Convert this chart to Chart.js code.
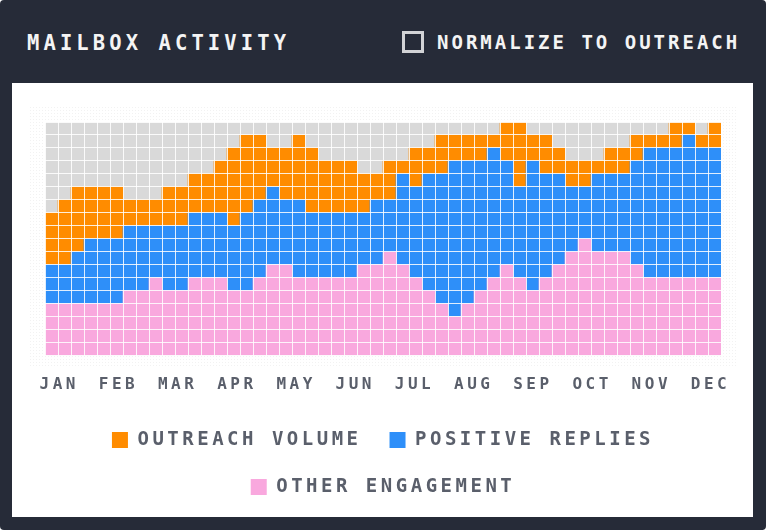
<!DOCTYPE html>
<html>
<head>
<meta charset="utf-8">
<script src="https://cdn.jsdelivr.net/npm/chart.js@4.4.1/dist/chart.umd.min.js"></script>
<style>
  html, body { margin: 0; padding: 0; background: #ffffff; }
  #frame { position: absolute; left: 0; top: 0; width: 766px; height: 530px; background: #262b38; border-radius: 4px; overflow: hidden; }
  .txt { position: absolute; color: #f4f4f4; font-family: "DejaVu Sans Mono", monospace; font-weight: bold; white-space: nowrap; }
  #title { left: 27px; top: 32.6px; font-size: 20.5px; line-height: 20.5px; letter-spacing: 4.1px; }
  #norm { left: 437px; top: 32.8px; font-size: 19px; line-height: 19px; letter-spacing: 3px; }
  #chk { position: absolute; left: 402px; top: 30.5px; width: 22px; height: 22px; box-sizing: border-box; border: 3px solid #d2d3d6; background: #262b38; }
  #panel { position: absolute; left: 12px; top: 83px; width: 741px; height: 434px; background: #ffffff; }
  canvas { display: block; }
</style>
</head>
<body>
<div id="frame">
  <div id="title" class="txt">MAILBOX ACTIVITY</div>
  <div id="chk"></div>
  <div id="norm" class="txt">NORMALIZE TO OUTREACH</div>
  <div id="panel"><canvas id="c" width="741" height="434"></canvas></div>
</div>
<script>
// ---- data (cells per week, 18-cell columns) ----
const WEEKS = ['W1','W2','W3','W4','W5','W6','W7','W8','W9','W10','W11','W12','W13','W14','W15','W16','W17','W18','W19','W20','W21','W22','W23','W24','W25','W26','W27','W28','W29','W30','W31','W32','W33','W34','W35','W36','W37','W38','W39','W40','W41','W42','W43','W44','W45','W46','W47','W48','W49','W50','W51','W52'];
const MONTHS = ['JAN','FEB','MAR','APR','MAY','JUN','JUL','AUG','SEP','OCT','NOV','DEC'];
const OTHER_ENGAGEMENT = [4,4,4,4,4,4,5,5,6,5,5,6,6,6,5,5,6,7,7,6,6,6,6,6,7,7,8,7,6,5,4,3,4,5,6,7,6,5,6,7,8,9,8,8,8,7,6,6,6,6,6,6];
const POSITIVE_REPLIES = [3,3,4,5,5,5,5,5,4,5,5,5,5,5,5,6,6,6,5,6,5,5,5,5,4,5,4,7,7,9,10,12,11,10,10,8,7,10,8,7,5,4,6,6,6,8,10,10,10,11,10,10];
const OUTREACH_VOLUME = [4,5,5,4,4,4,2,2,2,3,3,3,3,4,6,6,5,3,4,5,5,4,4,4,3,2,3,1,3,2,3,2,2,2,1,3,5,2,3,2,2,2,1,2,2,2,1,1,2,1,1,2];
const ROWS = 18;

const PINK = '#f9a8de';
const BLUE = '#2e8ff9';
const ORANGE = '#ff8c00';
const EMPTY = '#d9d9d9';
const GAP = 'rgba(255,255,255,0.85)';
const LABEL = '#5a5f6b';
const FONT = 'DejaVu Sans Mono';

const letterSpacing = {
  id: 'letterSpacing',
  beforeUpdate(chart) { chart.ctx.letterSpacing = '3.5px'; },
  beforeDraw(chart) { chart.ctx.letterSpacing = '3.5px'; }
};

const background = {
  id: 'background',
  beforeDraw(chart) {
    const {ctx, chartArea: a} = chart;
    const pc = document.createElement('canvas');
    pc.width = 3; pc.height = 3;
    const p = pc.getContext('2d');
    p.fillStyle = 'rgba(0,0,0,0.05)';
    p.fillRect(0, 0, 1, 1);
    ctx.save();
    ctx.fillStyle = ctx.createPattern(pc, 'repeat');
    ctx.fillRect(a.left - 15, a.top - 15, a.width + 31, a.height + 27);
    ctx.fillStyle = EMPTY;
    ctx.fillRect(a.left, a.top, a.width, a.height);
    ctx.restore();
  }
};

new Chart(document.getElementById('c'), {
  type: 'bar',
  data: {
    labels: WEEKS,
    datasets: [
      { label: 'OTHER ENGAGEMENT', data: OTHER_ENGAGEMENT, backgroundColor: PINK },
      { label: 'POSITIVE REPLIES', data: POSITIVE_REPLIES, backgroundColor: BLUE },
      { label: 'OUTREACH VOLUME', data: OUTREACH_VOLUME, backgroundColor: ORANGE }
    ]
  },
  options: {
    responsive: false,
    animation: false,
    devicePixelRatio: 1,
    layout: { padding: { left: 33, right: 32, top: 39, bottom: 10.5 } },
    datasets: { bar: { barPercentage: 1, categoryPercentage: 1, borderWidth: 0 } },
    scales: {
      x: {
        stacked: true,
        ticks: { display: false },
        grid: { color: GAP, lineWidth: 1, z: 1, drawTicks: false, offset: true },
        border: { display: false }
      },
      months: {
        type: 'linear',
        position: 'bottom',
        offset: false,
        min: -0.241,
        max: 11.177,
        afterBuildTicks: (s) => { s.ticks = MONTHS.map((m, i) => ({ value: i })); },
        afterFit: (s) => { s.height = 47; },
        ticks: {
          autoSkip: false, maxRotation: 0, padding: 20, color: LABEL,
          font: { family: FONT, weight: 'bold', size: 16 },
          callback: (v) => MONTHS[v]
        },
        grid: { display: false, drawTicks: false, offset: false },
        border: { display: false }
      },
      y: {
        stacked: true,
        min: 0,
        max: ROWS,
        ticks: { display: false, stepSize: 1, maxTicksLimit: 19 },
        grid: { color: GAP, lineWidth: 1, z: 1, drawTicks: false },
        border: { display: false }
      }
    },
    plugins: {
      tooltip: { enabled: false },
      legend: {
        position: 'bottom',
        reverse: true,
        labels: {
          boxWidth: 16, boxHeight: 16, padding: 28, color: LABEL,
          font: { family: FONT, weight: 'bold', size: 19 }
        }
      }
    }
  },
  plugins: [letterSpacing, background]
});
</script>
</body>
</html>
